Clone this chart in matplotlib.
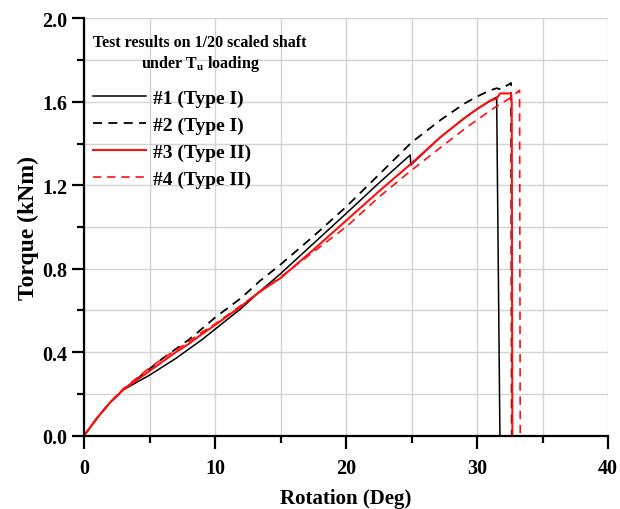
import matplotlib.pyplot as plt
import numpy as np

plt.rcParams['font.family'] = ['Liberation Serif', 'DejaVu Serif']
plt.rcParams['font.weight'] = 'bold'
plt.rcParams['mathtext.fontset'] = 'custom'
plt.rcParams['mathtext.rm'] = 'Liberation Serif:bold'
plt.rcParams['mathtext.bf'] = 'Liberation Serif:bold'

# #1 (Type I) - сплошная черная
x1 = [0, 1, 2, 3, 4, 5, 6, 7, 8, 9, 10, 12, 13.4, 15, 17.5, 20, 22.5, 24.9,
      24.95, 27.2, 29, 30, 31, 31.5, 31.75]
y1 = [0, 0.085, 0.16, 0.22, 0.255, 0.29, 0.33, 0.37, 0.415, 0.46, 0.51, 0.61,
      0.69, 0.776, 0.92, 1.064, 1.21, 1.345, 1.297, 1.43, 1.52, 1.565, 1.605,
      1.622, 0.0]

# #2 (Type I) - пунктир черный
x2 = [0, 1, 2, 3, 4, 5, 6, 7, 8, 8.85, 10, 12, 13.4, 15, 17.5, 20, 22.5, 25,
      27.2, 29, 30, 31, 31.5, 31.8, 32.6, 32.65]
y2 = [0, 0.085, 0.16, 0.22, 0.27, 0.32, 0.37, 0.415, 0.46, 0.504, 0.566, 0.66,
      0.74, 0.82, 0.955, 1.096, 1.25, 1.405, 1.512, 1.59, 1.625, 1.655, 1.665,
      1.66, 1.69, 0.0]

# #3 (Type II) - сплошная красная
x3 = [0, 1, 2, 3, 4, 5, 6, 7, 8, 8.85, 10, 12, 13.4, 15, 17.5, 20, 22.5, 25,
      27.2, 29, 30, 31, 31.5, 31.75, 32.6, 32.65, 32.7]
y3 = [0, 0.085, 0.16, 0.22, 0.265, 0.31, 0.355, 0.4, 0.44, 0.48, 0.53, 0.62,
      0.69, 0.755, 0.89, 1.03, 1.17, 1.305, 1.43, 1.52, 1.565, 1.605, 1.615,
      1.64, 1.64, 1.60, 0.0]

# #4 (Type II) - пунктир красный
x4 = [0, 1, 2, 3, 4, 5, 6, 7, 8, 8.85, 10, 12, 15, 17.5, 20, 22.6, 25, 27.2,
      29.2, 31.24, 32.5, 33.25, 33.3]
y4 = [0, 0.085, 0.16, 0.225, 0.275, 0.325, 0.37, 0.41, 0.45, 0.49, 0.535,
      0.625, 0.76, 0.88, 1.0, 1.148, 1.272, 1.38, 1.477, 1.568, 1.617, 1.655,
      0.0]

fig = plt.figure(figsize=(6.2, 5.1), dpi=100)
ax = fig.add_axes([84/620, 1 - 436.7/510, 524/620, 417.4/510])

dash = (0, (5, 3.5))
ax.plot(x1, y1, color='black', lw=1.1, label='#1 (Type I)')
ax.plot(x2, y2, color='black', lw=1.3, linestyle=dash, label='#2 (Type I)')
ax.plot(x3, y3, color='#ff1010', lw=1.5, label='#3 (Type II)')
ax.plot(x4, y4, color='#ff1010', lw=1.2, linestyle=dash, label='#4 (Type II)')

ax.set_xlim(0, 40)
ax.set_ylim(0, 2.0)
ax.set_xticks(np.arange(0, 41, 10))
ax.set_xticks(np.arange(5, 40, 10), minor=True)
ax.set_yticks(np.arange(0, 2.01, 0.4))
ax.set_yticks(np.arange(0.2, 2.0, 0.4), minor=True)
ax.set_yticklabels(['%.1f' % v for v in np.arange(0, 2.01, 0.4)])

ax.grid(which='both', color='#d4d4d4', lw=1.0)
ax.set_axisbelow(True)
for s in ['top', 'right']:
    ax.spines[s].set_visible(False)
for s in ['left', 'bottom']:
    ax.spines[s].set_linewidth(1.6)
ax.tick_params(which='major', direction='out', length=9, width=1.6,
               labelsize=14.5)
ax.tick_params(axis='x', which='major', pad=7)
ax.tick_params(axis='y', which='major', pad=3)
ax.tick_params(which='minor', direction='out', length=5, width=1.6)

ax.set_xlabel('Rotation (Deg)', fontsize=15, fontweight='bold', labelpad=7)
ax.set_ylabel('Torque (kNm)', fontsize=17, fontweight='bold', labelpad=2)

leg = ax.legend(title='Test results on 1/20 scaled shaft\nunder T$_\\mathbf{u}$ loading',
                loc='upper left', bbox_to_anchor=(0.018, 0.962), frameon=False,
                fontsize=14, title_fontsize=11.5, handlelength=2.7,
                handletextpad=0.35, labelspacing=0.47, borderpad=0,
                borderaxespad=0, alignment='left')
leg.get_title().set_fontweight('bold')
leg.get_title().set_multialignment('center')
leg._legend_box.sep = 12

plt.savefig('out.png', dpi=100)
